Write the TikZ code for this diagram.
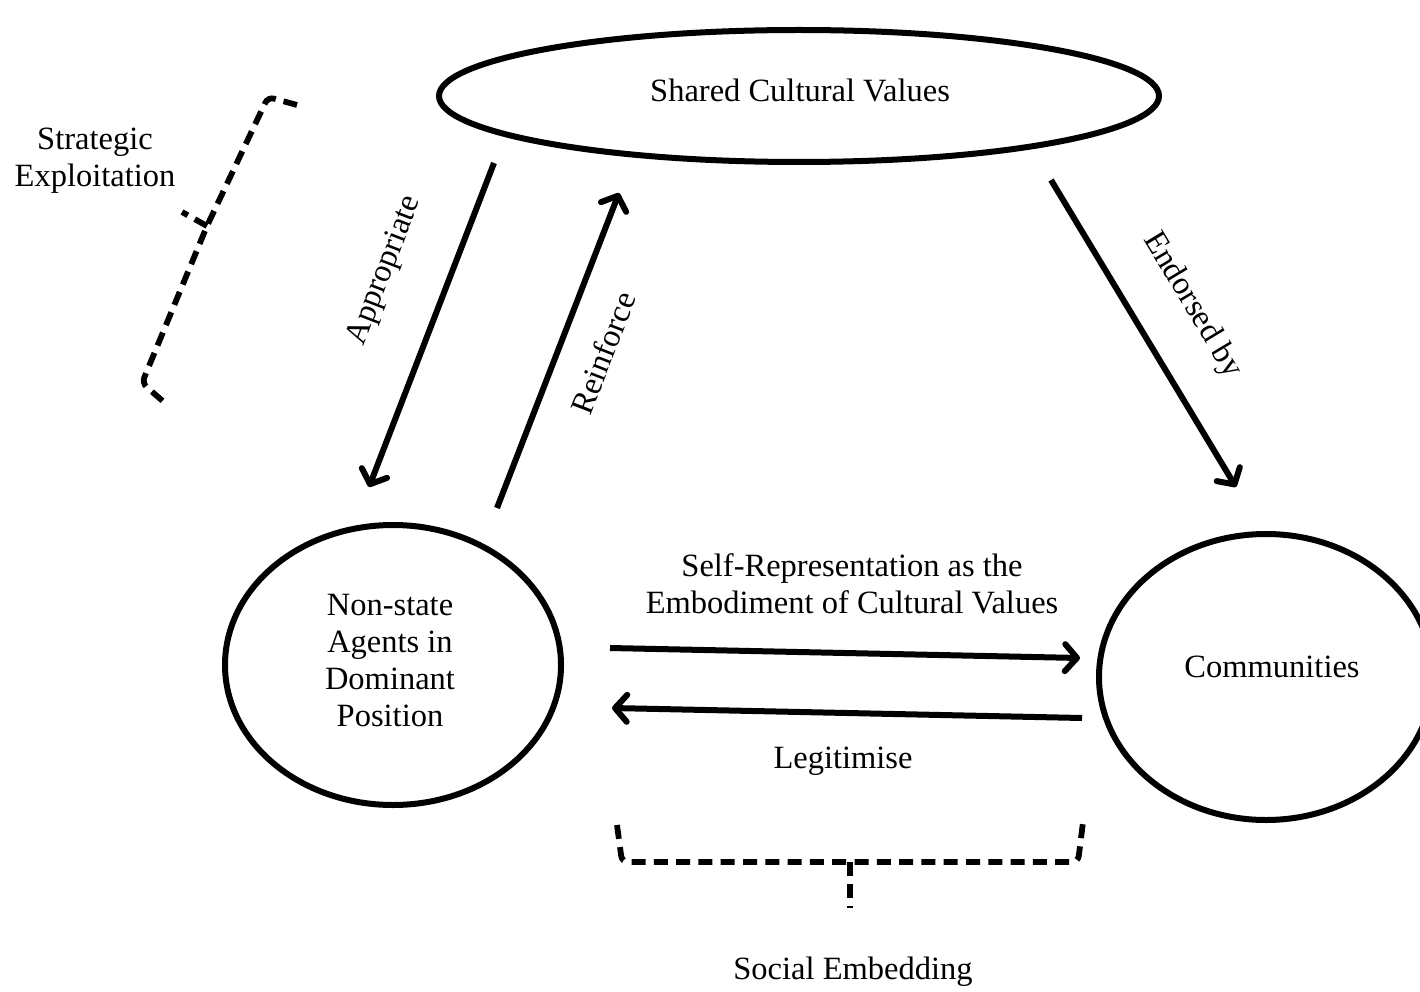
\documentclass[tikz,border=0pt]{standalone}
\usepackage{fontspec}
\setmainfont{Liberation Serif}
\usetikzlibrary{arrows.meta,shapes.geometric}
\begin{document}
\begin{tikzpicture}[x=1pt,y=-1pt,
  lbl/.style={font=\fontsize{32.5}{37}\selectfont, inner sep=0pt, align=center},
  shape ring/.style={draw, line width=6pt, ellipse, inner sep=0pt},
  conn/.style={line width=6pt, -{Straight Barb[length=12pt,width=27pt,line cap=round,line join=round]}},
  bracketline/.style={line width=5.8pt, dash pattern=on 14pt off 8pt, rounded corners=6pt}]
\useasboundingbox (0,0) rectangle (1420,992);
\begin{scope}
\clip (0,0) rectangle (1420,992);
% nodes
\node[shape ring, minimum width=720pt, minimum height=132pt] (scv) at (799,96) {};
\node[lbl] (scvt) at (800,90) {Shared Cultural Values};
\node[shape ring, minimum width=336pt, minimum height=280pt] (nsa) at (393,665) {};
\node[lbl] (nsat) at (390,661) {Non-state\\Agents in\\Dominant\\Position};
\node[shape ring, minimum width=334pt, minimum height=286pt] (com) at (1266,677) {};
\node[lbl] (comt) at (1272,667) {Communities};
\end{scope}

% labels
\node[lbl] (strat) at (95,161) {Strategic\\Exploitation};
\node[lbl, rotate=68.9] (appr) at (385,271) {Appropriate};
\node[lbl, rotate=68.8] (reinf) at (603,353) {Reinforce};
\node[lbl, rotate=-58.9] (endo) at (1192,305) {Endorsed by};
\node[lbl] (selfrep) at (852,584) {Self-Representation as the\\Embodiment of Cultural Values};
\node[lbl] (legit) at (843,761) {Legitimise};
\node[lbl] (socemb) at (853,972) {Social Embedding};

% connector end points
\coordinate (a1) at (494,163);
\coordinate (a2) at (369,487);
\coordinate (r1) at (497,508);
\coordinate (r2) at (619,193);
\coordinate (e1) at (1051,180);
\coordinate (e2) at (1236,487);
\coordinate (s1) at (610,648);
\coordinate (s2) at (1080,658);
\coordinate (l1) at (1082,718);
\coordinate (l2) at (612,708);

\draw[conn] (a1) -- (a2);
\draw[conn] (r1) -- (r2);
\draw[conn] (e1) -- (e2);
\draw[conn] (s1) -- (s2);
\draw[conn] (l1) -- (l2);

% brackets
\coordinate (b1) at (297,105);
\coordinate (b2) at (268,97);
\coordinate (b3) at (207,226);
\coordinate (b4) at (142,383);
\coordinate (b5) at (165,403);
\coordinate (b6) at (182,212);
\draw[bracketline] (b1) -- (b2) -- (b3) -- (b4) -- (b5);
\draw[line width=5.8pt, dash pattern=on 14pt off 8pt] (b3) -- (b6);

\coordinate (c1) at (617,825);
\coordinate (c2) at (622,862);
\coordinate (c3) at (1078,862);
\coordinate (c4) at (1083,822);
\coordinate (c5) at (850,862);
\coordinate (c6) at (850,908);
\draw[bracketline, dash pattern=on 14pt off 8.3pt] (c1) -- (c2) -- (c3) -- (c4);
\draw[line width=5.8pt, dash pattern=on 14pt off 8pt] (c5) -- (c6);
\end{tikzpicture}
\end{document}
